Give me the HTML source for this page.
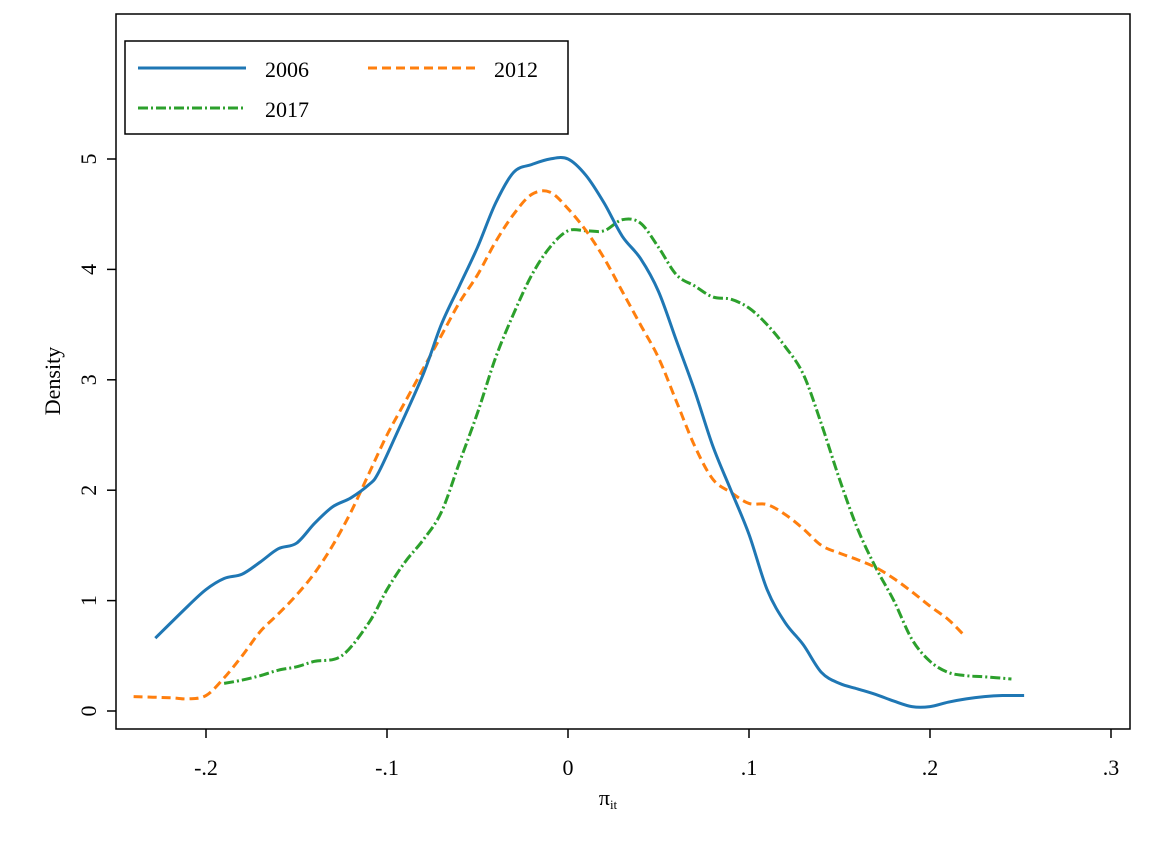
<!DOCTYPE html>
<html><head><meta charset="utf-8"><style>
body{margin:0;background:#fff;}
svg text{font-family:"Liberation Serif",serif;fill:#000;}
</style></head><body>
<svg id="chart" width="1161" height="845" xmlns="http://www.w3.org/2000/svg">
<rect x="0" y="0" width="1161" height="845" fill="#fff"/>
<rect x="116" y="14" width="1014" height="715" fill="none" stroke="#000" stroke-width="1.5"/>
<g id="xticks"></g>
<g id="yticks"></g>
<g id="series"></g>
<text x="60" y="381" font-size="22" text-anchor="middle" transform="rotate(-90 60 381)">Density</text>
<text x="608" y="805" font-size="22" text-anchor="middle">π<tspan font-size="13" dy="4">it</tspan></text>
<g>
<rect x="125" y="41" width="443" height="93" fill="#fff" stroke="#000" stroke-width="1.5"/>
<line x1="138" y1="68" x2="246" y2="68" stroke="#1f77b4" stroke-width="3"/>
<text x="265" y="77" font-size="22">2006</text>
<line x1="368" y1="68" x2="476" y2="68" stroke="#ff7f0e" stroke-width="3" stroke-dasharray="9,5"/>
<text x="494" y="77" font-size="22">2012</text>
<line x1="138" y1="108" x2="246" y2="108" stroke="#2ca02c" stroke-width="3" stroke-dasharray="10,3,2,3"/>
<text x="265" y="117" font-size="22">2017</text>
</g>
</svg>
<script>
const xTicks=[-0.2,-0.1,0,0.1,0.2,0.3];
const xTickLabels=["-.2","-.1","0",".1",".2",".3"];
const yTicks=[0,1,2,3,4,5];
const yTickLabels=["0","1","2","3","4","5"];
const x2006=[-0.228,-0.21,-0.2,-0.19,-0.18,-0.17,-0.16,-0.15,-0.14,-0.13,-0.12,-0.11,-0.105,-0.095,-0.08,-0.07,-0.06,-0.05,-0.04,-0.03,-0.02,-0.01,0,0.01,0.02,0.03,0.04,0.05,0.06,0.07,0.08,0.09,0.1,0.11,0.12,0.13,0.14,0.15,0.16,0.17,0.18,0.19,0.2,0.21,0.22,0.23,0.24,0.252];
const y2006=[0.66,0.95,1.1,1.2,1.24,1.35,1.47,1.52,1.7,1.85,1.93,2.05,2.15,2.5,3.05,3.5,3.85,4.2,4.6,4.88,4.95,5.0,5.0,4.85,4.6,4.3,4.1,3.8,3.35,2.9,2.4,2.0,1.6,1.1,0.8,0.6,0.35,0.25,0.2,0.15,0.09,0.04,0.04,0.08,0.11,0.13,0.14,0.14];
const x2012=[-0.24,-0.22,-0.21,-0.2,-0.19,-0.18,-0.17,-0.16,-0.15,-0.14,-0.13,-0.12,-0.11,-0.1,-0.09,-0.08,-0.07,-0.06,-0.05,-0.04,-0.03,-0.02,-0.01,0,0.01,0.02,0.03,0.04,0.05,0.06,0.07,0.08,0.09,0.1,0.11,0.12,0.13,0.14,0.15,0.16,0.17,0.18,0.19,0.2,0.21,0.218];
const y2012=[0.13,0.12,0.11,0.14,0.3,0.5,0.72,0.88,1.05,1.25,1.5,1.8,2.15,2.5,2.8,3.1,3.4,3.7,3.95,4.25,4.5,4.68,4.7,4.55,4.35,4.1,3.8,3.5,3.2,2.8,2.4,2.1,1.98,1.88,1.87,1.78,1.65,1.5,1.43,1.37,1.3,1.2,1.08,0.95,0.83,0.7];
const x2017=[-0.19,-0.18,-0.17,-0.16,-0.15,-0.14,-0.125,-0.11,-0.1,-0.09,-0.08,-0.07,-0.06,-0.05,-0.04,-0.03,-0.02,-0.01,0,0.01,0.02,0.03,0.04,0.05,0.06,0.07,0.08,0.09,0.1,0.11,0.12,0.13,0.14,0.15,0.16,0.17,0.18,0.19,0.2,0.21,0.22,0.23,0.245];
const y2017=[0.25,0.28,0.32,0.37,0.4,0.45,0.5,0.8,1.1,1.35,1.55,1.8,2.25,2.7,3.2,3.6,3.95,4.2,4.35,4.35,4.35,4.45,4.42,4.2,3.95,3.85,3.75,3.73,3.65,3.5,3.3,3.05,2.6,2.1,1.65,1.3,1.0,0.65,0.45,0.35,0.32,0.31,0.29];
const NS="http://www.w3.org/2000/svg";
const sx=v=>568+v*1810;
const sy=v=>711-v*110.4;
const xg=document.getElementById('xticks'),yg=document.getElementById('yticks'),sg=document.getElementById('series');
xTicks.forEach((t,i)=>{
 const l=document.createElementNS(NS,'line');
 l.setAttribute('x1',sx(t));l.setAttribute('x2',sx(t));l.setAttribute('y1',729);l.setAttribute('y2',738);l.setAttribute('stroke','#000');l.setAttribute('stroke-width','1.5');
 
 
 xg.appendChild(l);
 const tx=document.createElementNS(NS,'text');
 tx.setAttribute('x',sx(t));tx.setAttribute('y',775);tx.setAttribute('font-size','22');tx.setAttribute('text-anchor','middle');
 tx.textContent=xTickLabels[i];
 
 
 xg.appendChild(tx);
});
yTicks.forEach((t,i)=>{
 const l=document.createElementNS(NS,'line');
 l.setAttribute('x1',107);l.setAttribute('x2',116);l.setAttribute('y1',sy(t));l.setAttribute('y2',sy(t));l.setAttribute('stroke','#000');l.setAttribute('stroke-width','1.5');
 
 
 yg.appendChild(l);
 const tx=document.createElementNS(NS,'text');
 const yy=sy(t);
 tx.setAttribute('x',96);tx.setAttribute('y',yy);tx.setAttribute('font-size','22');tx.setAttribute('text-anchor','middle');
 tx.setAttribute('transform','rotate(-90 96 '+yy+')');
 tx.textContent=yTickLabels[i];
 
 
 yg.appendChild(tx);
});
function smooth(pts){
 let d='M'+pts[0][0]+','+pts[0][1];
 for(let i=0;i<pts.length-1;i++){
  const p0=pts[i-1]||pts[i],p1=pts[i],p2=pts[i+1],p3=pts[i+2]||p2;
  const c1x=p1[0]+(p2[0]-p0[0])/6,c1y=p1[1]+(p2[1]-p0[1])/6;
  const c2x=p2[0]-(p3[0]-p1[0])/6,c2y=p2[1]-(p3[1]-p1[1])/6;
  d+=' C'+c1x+','+c1y+' '+c2x+','+c2y+' '+p2[0]+','+p2[1];
 }
 return d;
}
function draw(xs,ys,color,dash,name){
 const p=document.createElementNS(NS,'path');
 p.setAttribute('d',smooth(xs.map((x,i)=>[sx(x),sy(ys[i])])));
 p.setAttribute('fill','none');p.setAttribute('stroke',color);p.setAttribute('stroke-width','3');
 p.setAttribute('stroke-linejoin','round');
 if(dash)p.setAttribute('stroke-dasharray',dash);
 
 
 sg.appendChild(p);
}
draw(x2017,y2017,'#2ca02c','10,3,2,3','line-2017');
draw(x2012,y2012,'#ff7f0e','9,5','line-2012');
draw(x2006,y2006,'#1f77b4',null,'line-2006');
</script>
</body></html>
